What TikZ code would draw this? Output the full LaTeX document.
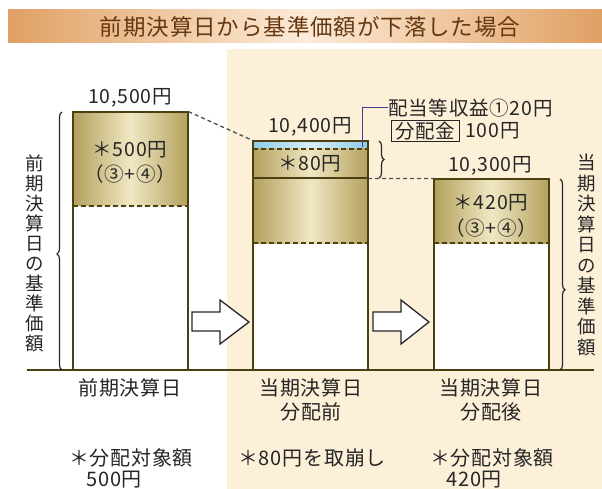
\documentclass[tikz,border=0pt]{standalone}
\usepackage{fontspec}
\setmainfont{Noto Sans CJK JP}
\newfontfamily\jp[LetterSpace=4]{Noto Sans CJK JP}
\usetikzlibrary{decorations.pathreplacing}
\definecolor{barline}{HTML}{4A4012}
\definecolor{goldD}{HTML}{B3A05C}
\definecolor{goldL}{HTML}{F0E8C4}
\definecolor{panelc}{HTML}{FDF0D9}
\definecolor{titleL}{HTML}{E0A064}
\definecolor{titleM}{HTML}{FCEBD8}
\definecolor{titletext}{HTML}{663810}
\definecolor{blueD}{HTML}{8DCBE8}
\definecolor{blueL}{HTML}{D6EFF9}
\definecolor{txt}{HTML}{262626}
\definecolor{leaderc}{HTML}{3F3F86}
\tikzset{
  bar/.style={fill=white, inner sep=0pt, minimum width=115pt, anchor=south west},
  gold/.style={left color=goldD, right color=goldD, middle color=goldL},
  bluestrip/.style={left color=blueD, right color=blueD, middle color=blueL},
  border/.style={draw=barline, line width=2pt},
  dsh/.style={draw=barline, line width=1.8pt, dash pattern=on 5pt off 3pt},
  conn/.style={draw=txt!80, line width=1.3pt, dash pattern=on 4pt off 3pt},
  lbl/.style={font=\jp\fontsize{19.5}{22}\selectfont, text=txt, inner sep=0pt},
  bot/.style={font=\jp\fontsize{20}{24}\selectfont, text=txt, inner sep=0pt, align=center},
  vert/.style={font=\fontsize{18.5}{20}\selectfont, text=txt, inner sep=0pt, align=center},
  brc/.style={decorate, draw=txt, line width=1.2pt},
  barrow/.style={draw=txt, fill=white, line width=1.3pt, line join=miter},
}
\begin{document}
\begin{tikzpicture}[x=1pt,y=-1pt]
\useasboundingbox (0,0) rectangle (602,489);
\fill[white] (0,0) rectangle (602,489);
% title band
\shade[left color=titleL, right color=titleL, middle color=titleM] (8,10) rectangle (602,43);
\node[font=\jp\fontsize{22.5}{24}\selectfont, text=titletext, inner sep=0pt] (title) at (310,27) {前期決算日から基準価額が下落した場合};
% panel
\fill[panelc] (227,49) rectangle (602,489);

% bar 1
\node[bar, minimum height=258pt] (b1) at (73,370) {};
\shade[gold] (73,112) rectangle (188,206);
\draw[dsh] (73,206) -- (188,206);
\draw[border] (b1.south west) rectangle (b1.north east);

% bar 2
\node[bar, minimum height=229pt] (b2) at (253,370) {};
\shade[bluestrip] (253,141) rectangle (368,149);
\shade[gold] (253,149) rectangle (368,243);
\draw[dsh] (253,149) -- (368,149);
\draw[draw=barline, line width=2pt] (253,178) -- (368,178);
\draw[dsh] (253,243) -- (368,243);
\draw[border] (b2.south west) rectangle (b2.north east);

% bar 3
\node[bar, minimum height=191pt] (b3) at (434,370) {};
\shade[gold] (434,179) rectangle (549,243);
\draw[dsh] (434,243) -- (549,243);
\draw[border] (b3.south west) rectangle (b3.north east);

% baseline
\coordinate (bl1) at (27,370);
\coordinate (bl2) at (594,370);
\draw[draw=barline, line width=2.2pt] (bl1) -- (bl2);

% dashed connectors
\draw[conn] (b1.north east) -- (b2.north west);
\coordinate (b2mid) at (368,178.5);
\draw[conn] (b2mid) -- (b3.north west);

% labels on top
\node[lbl] (v1) at (130,98) {10,500円};
\node[lbl] (v2) at (310,127) {10,400円};
\node[lbl] (v3) at (490,166) {10,300円};

% bar texts
\node[lbl] (t1a) at (130,150) {＊500円};
\node[lbl] (t1b) at (130,174) {（③+④）};
\node[lbl] (t2) at (310,164) {＊80円};
\node[lbl] (t3a) at (491,203) {＊420円};
\node[lbl] (t3b) at (491,228) {（③+④）};

% dividend annotation
\node[lbl, anchor=west] (ann) at (388,108) {配当等収益①20円};
\coordinate (ls) at (362,147);
\draw[draw=leaderc, line width=1pt] (ls) |- (ann.west);
\node[lbl, anchor=west, draw=txt, line width=0.9pt, inner xsep=3pt, minimum height=21pt, minimum width=68pt] (box) at (391,131) {分配金};
\node[lbl, anchor=west] (amt) at (465,131) {100円};

% braces
\coordinate (lbA) at (62,370);
\coordinate (lbB) at (62,112);
\draw[brc, decoration={brace, amplitude=5pt, aspect=0.45}] (lbA) -- (lbB);
\coordinate (sbA) at (379,141);
\coordinate (sbB) at (379,178);
\draw[brc, decoration={brace, amplitude=5pt, aspect=0.5}] (sbA) -- (sbB);
\coordinate (rbA) at (560,179);
\coordinate (rbB) at (560,370);
\draw[brc, decoration={brace, amplitude=5pt, aspect=0.58}] (rbA) -- (rbB);

% vertical labels
\node[vert] (lv) at (35,253) {前\\期\\決\\算\\日\\の\\基\\準\\価\\額};
\node[vert, font=\fontsize{18.5}{20.5}\selectfont] (rv) at (587,255) {当\\期\\決\\算\\日\\の\\基\\準\\価\\額};

% block arrows
\draw[barrow] (192,312) -- (220,312) -- (220,300) -- (249,322) -- (220,344) -- (220,331) -- (192,331) -- cycle;
\draw[barrow] (373,312) -- (401,312) -- (401,300) -- (429,322) -- (401,344) -- (401,331) -- (373,331) -- cycle;

% bottom labels
\node[bot] (c1) at (130,388) {前期決算日};
\node[bot] (c2) at (311,400) {当期決算日\\分配前};
\node[bot] (c3) at (491,400) {当期決算日\\分配後};
\node[bot] (n1) at (131,458) {＊分配対象額};
\node[bot, anchor=west] (n1b) at (86,480) {500円};
\node[bot] (n2) at (312,458) {＊80円を取崩し};
\node[bot] (n3) at (492,458) {＊分配対象額};
\node[bot, anchor=west] (n3b) at (446,480) {420円};
\end{tikzpicture}
\end{document}
